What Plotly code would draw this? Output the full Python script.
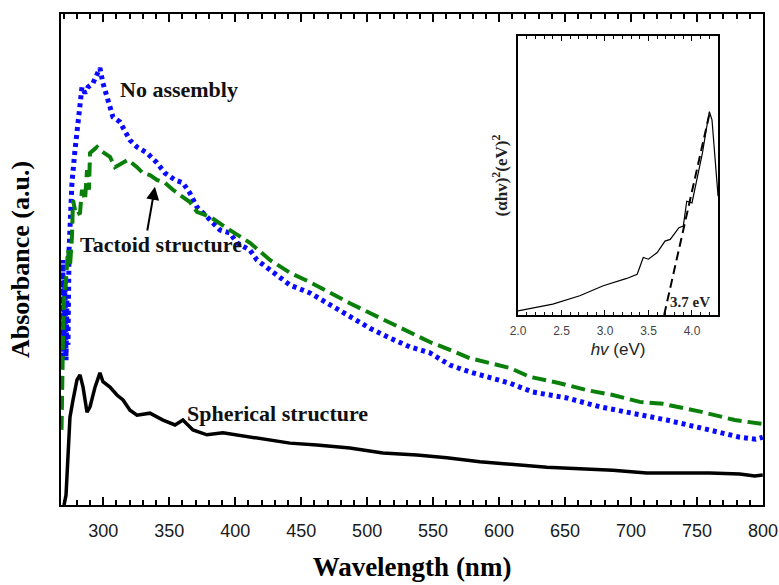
import plotly.graph_objects as go

# ---------------- main panel data (wavelength in nm, absorbance a.u.) ----------------
no_assembly_nm = [268.4, 268.8, 269.5, 270.3, 271.0, 271.8, 272.5, 273.3, 274.1, 274.8, 276.3, 278.6,
                  280.9, 283.9, 286.2, 288.5, 292.2, 296.0, 297.5, 299.8, 303.6, 307.4, 312.7, 320.3,
                  325.6, 333.2, 340.7, 346.8, 354.4, 360.4, 365.7, 371.0, 378.6, 388.5, 396.0, 401.3,
                  411.2, 416.5, 426.3, 441.5, 456.6, 471.8, 486.9, 502.1, 517.2, 532.4, 547.5, 562.7,
                  577.8, 593.0, 608.2, 625.6, 651.3, 676.3, 701.3, 727.1, 755.9, 782.4, 794.5, 799.8]
no_assembly_abs = [0.418, 0.295, 0.499, 0.316, 0.458, 0.295, 0.418, 0.326, 0.519, 0.574, 0.656, 0.723,
                   0.790, 0.851, 0.839, 0.851, 0.859, 0.882, 0.890, 0.859, 0.821, 0.790, 0.780, 0.743,
                   0.729, 0.717, 0.697, 0.676, 0.662, 0.656, 0.635, 0.607, 0.587, 0.560, 0.554, 0.534,
                   0.519, 0.499, 0.479, 0.448, 0.432, 0.407, 0.383, 0.360, 0.340, 0.322, 0.310, 0.285,
                   0.271, 0.259, 0.248, 0.230, 0.218, 0.200, 0.187, 0.173, 0.155, 0.138, 0.134, 0.138]

tactoid_nm = [268.4, 268.8, 269.5, 270.3, 271.8, 273.3, 274.8, 276.3, 277.1, 279.4, 282.4, 283.9,
              286.2, 287.7, 289.2, 290.0, 292.2, 295.3, 297.5, 301.3, 305.1, 308.9, 314.2, 318.8,
              325.6, 330.1, 335.4, 340.7, 346.8, 352.8, 360.4, 365.7, 371.0, 380.9, 396.0, 411.2,
              426.3, 441.5, 456.6, 471.8, 486.9, 502.1, 517.2, 532.4, 547.5, 562.7, 577.8, 593.0,
              608.2, 623.3, 646.0, 666.5, 686.2, 706.6, 724.1, 754.4, 778.6, 799.8]
tactoid_abs = [0.153, 0.255, 0.336, 0.418, 0.458, 0.519, 0.485, 0.546, 0.621, 0.591, 0.595, 0.642,
               0.621, 0.682, 0.642, 0.717, 0.723, 0.729, 0.723, 0.717, 0.709, 0.688, 0.697, 0.703,
               0.688, 0.676, 0.672, 0.662, 0.656, 0.642, 0.627, 0.617, 0.597, 0.587, 0.560, 0.534,
               0.499, 0.473, 0.454, 0.432, 0.411, 0.391, 0.371, 0.352, 0.332, 0.316, 0.299, 0.289,
               0.279, 0.261, 0.248, 0.234, 0.224, 0.210, 0.206, 0.189, 0.173, 0.165]

spherical_nm = [270.3, 271.0, 271.8, 272.5, 273.3, 274.8, 277.1, 280.1, 282.4, 284.7, 287.7, 290.0,
                293.8, 297.5, 299.8, 305.1, 310.4, 315.0, 320.3, 325.6, 335.4, 345.3, 354.4, 360.4,
                368.0, 378.6, 390.7, 411.2, 424.1, 441.5, 461.9, 486.9, 511.9, 537.7, 560.4, 585.4,
                636.2, 686.2, 711.9, 759.7, 782.4, 793.8, 799.8]
spherical_abs = [0.000, 0.010, 0.020, 0.057, 0.092, 0.179, 0.214, 0.255, 0.265, 0.240, 0.189, 0.200,
                 0.240, 0.269, 0.251, 0.240, 0.224, 0.214, 0.193, 0.183, 0.187, 0.173, 0.163, 0.173,
                 0.153, 0.143, 0.147, 0.138, 0.132, 0.126, 0.122, 0.116, 0.106, 0.102, 0.096, 0.088,
                 0.077, 0.071, 0.065, 0.065, 0.063, 0.059, 0.061]

x_tick_start, x_tick_step, x_minor_step = 300, 50, 10

# ---------------- inset data (Tauc plot) ----------------
tauc_ev = [2.00, 2.40, 2.71, 2.98, 3.25, 3.37, 3.44, 3.50, 3.60, 3.69, 3.75, 3.85, 3.90, 3.94,
           4.00, 4.06, 4.12, 4.17, 4.20, 4.23, 4.30]
tauc_val = [0.015, 0.039, 0.069, 0.105, 0.131, 0.146, 0.206, 0.200, 0.224, 0.265, 0.271, 0.313,
            0.319, 0.408, 0.402, 0.485, 0.580, 0.675, 0.729, 0.700, 0.426]
fit_ev = [3.68, 4.20]
fit_val = [0.0, 0.72]
inset_tick_start, inset_tick_step, inset_minor_step = 2.0, 0.5, 0.1

SERIF = "Liberation Serif, Times New Roman, serif"
SANS = "Liberation Sans, Arial, sans-serif"

fig = go.Figure()
fig.add_trace(go.Scatter(x=no_assembly_nm, y=no_assembly_abs, mode="lines",
                         line=dict(color="#0a0aff", width=5, dash="4px,4px"),
                         name="No assembly", showlegend=False))
fig.add_trace(go.Scatter(x=tactoid_nm, y=tactoid_abs, mode="lines",
                         line=dict(color="#0a800a", width=4, dash="14px,6px"),
                         name="Tactoid structure", showlegend=False))
fig.add_trace(go.Scatter(x=spherical_nm, y=spherical_abs, mode="lines",
                         line=dict(color="black", width=3.5),
                         name="Spherical structure", showlegend=False))

fig.add_trace(go.Scatter(x=tauc_ev, y=tauc_val, mode="lines", xaxis="x2", yaxis="y2",
                         line=dict(color="black", width=1.2), showlegend=False))
fig.add_trace(go.Scatter(x=fit_ev, y=fit_val, mode="lines", xaxis="x2", yaxis="y2",
                         line=dict(color="black", width=2, dash="9px,5px"), showlegend=False))

fig.update_layout(template="none")
fig.update_layout(
    width=779, height=585,
    margin=dict(l=61, r=16, t=14, b=80, autoexpand=False),
    paper_bgcolor="white", plot_bgcolor="white",
    showlegend=False,
    xaxis=dict(range=[268, 800], tickmode="linear", tick0=x_tick_start, dtick=x_tick_step,
               ticks="inside", ticklen=8, tickwidth=2, tickcolor="#000000",
               minor=dict(dtick=x_minor_step, ticks="inside", ticklen=5, tickwidth=1.5,
                          tickcolor="#000000", showgrid=False),
               showline=True, linewidth=2, linecolor="black", mirror="ticks", showgrid=False,
               zeroline=False, ticklabelstandoff=8,
               tickfont=dict(family=SANS, size=18, color="#1a1a1a"),
               title=dict(text="<b>Wavelength (nm)</b>", standoff=18,
                          font=dict(family=SERIF, size=27, color="black"))),
    yaxis=dict(range=[0, 1], showticklabels=False, ticks="", showline=True, linewidth=2,
               linecolor="black", mirror=True, showgrid=False, zeroline=False,
               title=dict(text="<b>Absorbance (a.u.)</b>", standoff=22,
                          font=dict(family=SERIF, size=26, color="black"))),
    xaxis2=dict(domain=[0.651, 0.936], anchor="y2", range=[2.0, 4.3], tickmode="linear",
                tick0=inset_tick_start, dtick=inset_tick_step, tickformat=".1f",
                ticks="inside", ticklen=5, tickwidth=1.2, tickcolor="#000000",
                minor=dict(dtick=inset_minor_step, ticks="inside", ticklen=3, tickwidth=1,
                           tickcolor="#000000", showgrid=False),
                showline=True, linewidth=1.5, linecolor="black", mirror="ticks", showgrid=False,
                zeroline=False, ticklabelstandoff=4,
                tickfont=dict(family=SANS, size=12, color="#444444"),
                title=dict(text="<i>hv</i> (eV)", standoff=6,
                           font=dict(family=SANS, size=17, color="#222222"))),
    yaxis2=dict(domain=[0.387, 0.955], anchor="x2", range=[0, 1], showticklabels=False, ticks="",
                showline=True, linewidth=1.5, linecolor="black", mirror=True, showgrid=False,
                zeroline=False,
                title=dict(text="<b>(αhv)<sup>2</sup>(eV)<sup>2</sup></b>", standoff=4,
                           font=dict(family=SERIF, size=17, color="#222222"))),
)

fig.add_annotation(x=311.2, y=0.847, xref="x", yref="y", text="<b>No assembly</b>",
                   showarrow=False, xanchor="left", yanchor="middle",
                   font=dict(family=SERIF, size=22, color="#111111"))
fig.add_annotation(x=280.9, y=0.530, xref="x", yref="y", text="<b>Tactoid structure</b>",
                   showarrow=False, xanchor="left", yanchor="middle",
                   font=dict(family=SERIF, size=22, color="#111111"))
fig.add_annotation(x=361.9, y=0.187, xref="x", yref="y", text="<b>Spherical structure</b>",
                   showarrow=False, xanchor="left", yanchor="middle",
                   font=dict(family=SERIF, size=22, color="#111111"))
fig.add_annotation(x=339.2, y=0.648, ax=333.2, ay=0.556, xref="x", yref="y", axref="x", ayref="y",
                   text="", showarrow=True, arrowhead=2, arrowsize=1.3, arrowwidth=2,
                   arrowcolor="black")
fig.add_annotation(x=3.73, y=0.045, xref="x2", yref="y2", text="<b>3.7 eV</b>",
                   showarrow=False, xanchor="left", yanchor="middle",
                   font=dict(family=SERIF, size=15, color="#222222"))

fig.write_html("out.html", config={"displayModeBar": False},
               post_script="document.body.style.margin='0';document.body.style.overflow='hidden';")
